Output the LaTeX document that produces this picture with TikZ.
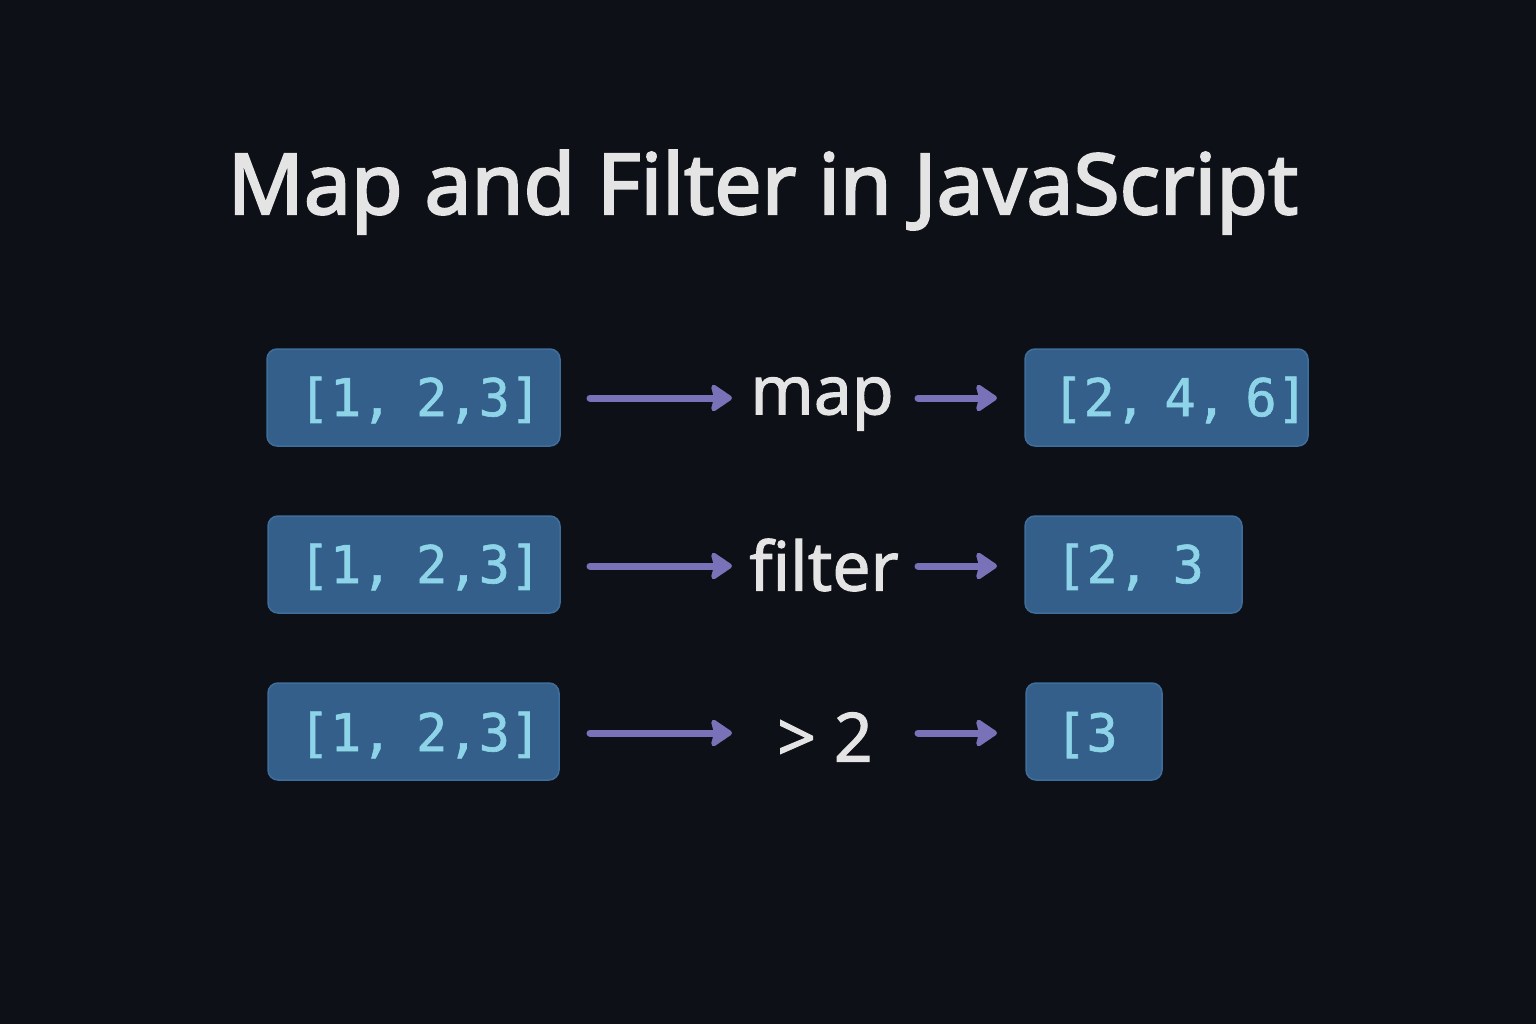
\documentclass[tikz,border=0pt]{standalone}
\usepackage{fontspec}
\setmainfont{Noto Sans}
\newfontfamily\titlefont{Noto Sans}[FakeBold=2.5]
\newfontfamily\labfont{Noto Sans}[FakeBold=1.5]
\newfontfamily\codefont{DejaVu Sans Mono}[FakeBold=1.2]
\usetikzlibrary{arrows.meta}
\definecolor{bg}{HTML}{0D1017}
\definecolor{boxfill}{HTML}{335F8A}
\definecolor{boxline}{HTML}{3F6E9C}
\definecolor{codecol}{HTML}{8ED4E8}
\definecolor{arrcol}{HTML}{7A72B8}
\definecolor{labcol}{HTML}{E4E4E4}
\begin{document}
\begin{tikzpicture}[x=1pt,y=-1pt,
  arrbox/.style={draw=boxline, line width=1.5pt, fill=boxfill, rounded corners=10pt},
  code/.style={text=codecol, font=\codefont\fontsize{52}{60}\selectfont, inner sep=0pt},
  lab/.style={text=labcol, font=\labfont\fontsize{68}{80}\selectfont, inner sep=0pt},
  flow/.style={draw=arrcol, line width=7pt, line cap=round, -{Stealth[length=24pt,width=32pt,inset=4pt,round]}}
]
\fill[bg] (0,0) rectangle (1536,1024);
\useasboundingbox (0,0) rectangle (1536,1024);

\node[text=labcol, font=\titlefont\fontsize{84}{100}\selectfont, anchor=base] (title) at (763,214) {Map and Filter in JavaScript};

% row 1
\draw[arrbox] (267,349) rectangle (560,446);
\node[code] (in1) at (420,400) {[1,\kern-0.15em{} 2,3]};
\node[lab] (map) at (822,404) {map};
\draw[arrbox] (1025,349) rectangle (1308,446);
\node[code, anchor=west] (out1) at (1052,400) {[2,\kern-0.25em{} 4,\kern-0.25em{} 6]};
\coordinate (a1s) at (590,398); \coordinate (a1e) at (732,398);
\coordinate (b1s) at (918,398); \coordinate (b1e) at (997,398);
\draw[flow] (a1s) -- (a1e);
\draw[flow] (b1s) -- (b1e);

% row 2
\draw[arrbox] (268,516) rectangle (560,613);
\node[code] (in2) at (420,567) {[1,\kern-0.15em{} 2,3]};
\node[lab] (filter) at (824,565) {filter};
\draw[arrbox] (1025,516) rectangle (1242,613);
\node[code, anchor=west] (out2) at (1055,567) {[2,\kern-0.15em{} 3};
\coordinate (a2s) at (590,566); \coordinate (a2e) at (732,566);
\coordinate (b2s) at (918,566); \coordinate (b2e) at (997,566);
\draw[flow] (a2s) -- (a2e);
\draw[flow] (b2s) -- (b2e);

% row 3
\draw[arrbox] (268,683) rectangle (559,780);
\node[code] (in3) at (420,735) {[1,\kern-0.15em{} 2,3]};
\node[lab] (gt) at (825,737) {> 2};
\draw[arrbox] (1026,683) rectangle (1162,780);
\node[code, anchor=west] (out3) at (1055,735) {[3};
\coordinate (a3s) at (590,733); \coordinate (a3e) at (732,733);
\coordinate (b3s) at (918,733); \coordinate (b3e) at (997,733);
\draw[flow] (a3s) -- (a3e);
\draw[flow] (b3s) -- (b3e);
\end{tikzpicture}
\end{document}
